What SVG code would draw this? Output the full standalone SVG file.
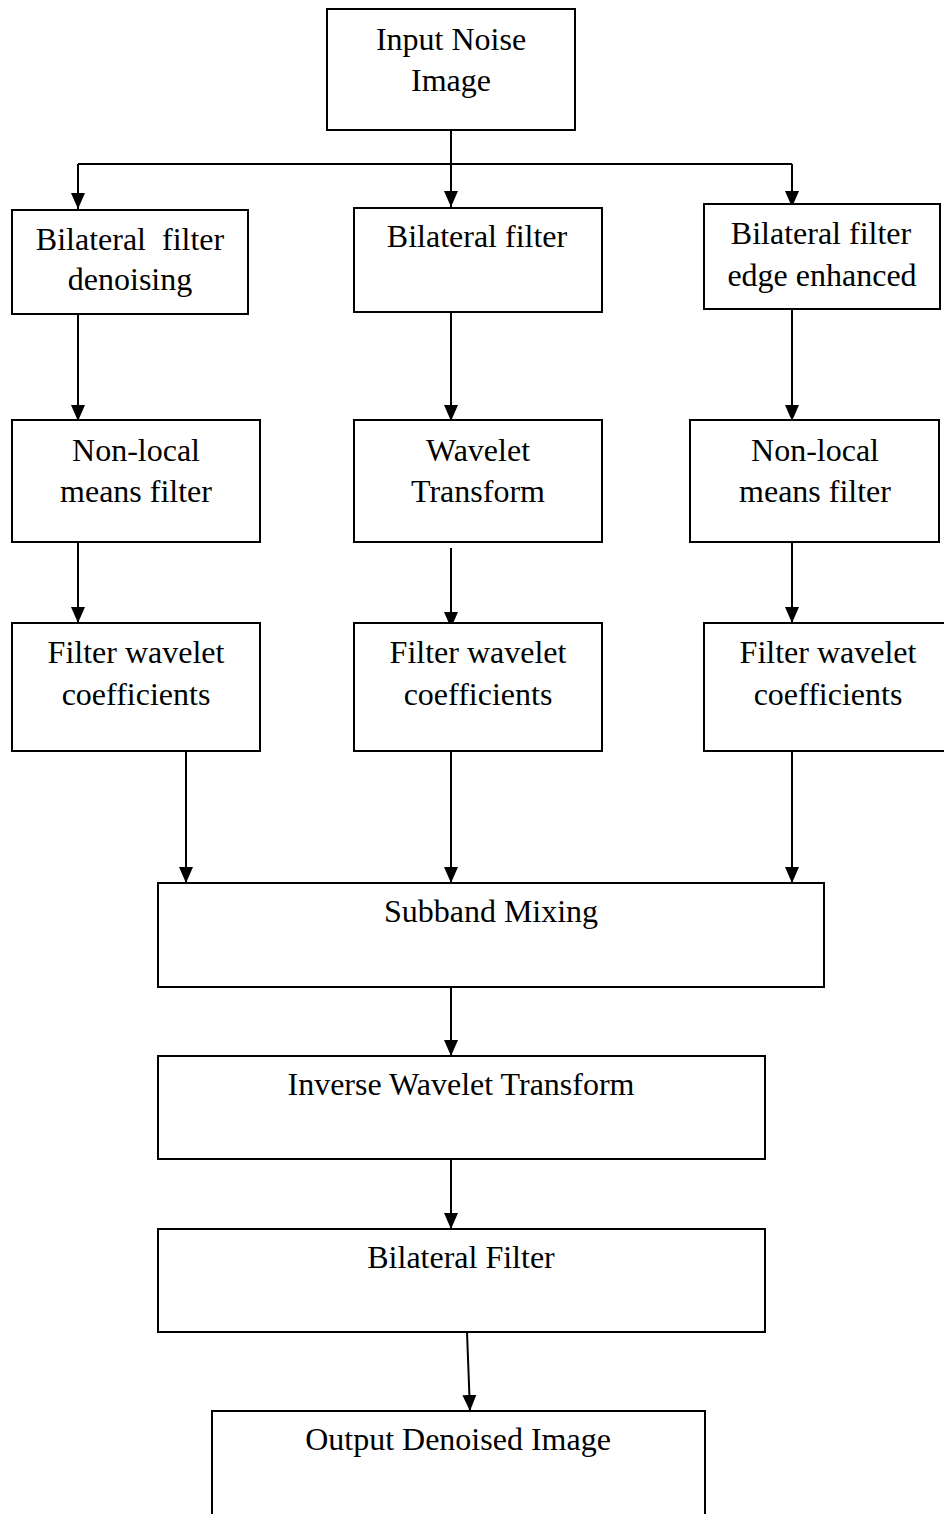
<svg xmlns="http://www.w3.org/2000/svg" width="944" height="1514" viewBox="0 0 944 1514">
  <style>
    .box { fill: #ffffff; stroke: #000000; stroke-width: 2; }
    .lbl { font-family: "Liberation Serif", "Times New Roman", serif; font-size: 32px; fill: #000000; text-anchor: middle; }
    .wire { fill: none; stroke: #000000; stroke-width: 2; }
  </style>
  <defs>
    <marker id="arrow" markerUnits="userSpaceOnUse" markerWidth="16" markerHeight="16" viewBox="0 0 16 14" refX="16" refY="7" orient="auto">
      <path d="M0,0 L16,7 L0,14 Z" fill="#000000"/>
    </marker>
  </defs>

  <rect width="944" height="1514" fill="#ffffff"/>

  <!-- connectors -->
  <g id="connectors">
    <line class="wire" x1="451" y1="130" x2="451" y2="164"/>
    <line class="wire" x1="78" y1="164" x2="792" y2="164"/>
    <line class="wire" x1="78" y1="164" x2="78" y2="209" marker-end="url(#arrow)"/>
    <line class="wire" x1="451" y1="164" x2="451" y2="207" marker-end="url(#arrow)"/>
    <line class="wire" x1="792" y1="164" x2="792" y2="207" marker-end="url(#arrow)"/>

    <line class="wire" x1="78" y1="314" x2="78" y2="421" marker-end="url(#arrow)"/>
    <line class="wire" x1="451" y1="312" x2="451" y2="421" marker-end="url(#arrow)"/>
    <line class="wire" x1="792" y1="309" x2="792" y2="421" marker-end="url(#arrow)"/>

    <line class="wire" x1="78" y1="542" x2="78" y2="623" marker-end="url(#arrow)"/>
    <line class="wire" x1="451" y1="548" x2="451" y2="628" marker-end="url(#arrow)"/>
    <line class="wire" x1="792" y1="542" x2="792" y2="623" marker-end="url(#arrow)"/>

    <line class="wire" x1="186" y1="751" x2="186" y2="883" marker-end="url(#arrow)"/>
    <line class="wire" x1="451" y1="751" x2="451" y2="883" marker-end="url(#arrow)"/>
    <line class="wire" x1="792" y1="751" x2="792" y2="883" marker-end="url(#arrow)"/>

    <line class="wire" x1="451" y1="987" x2="451" y2="1056" marker-end="url(#arrow)"/>
    <line class="wire" x1="451" y1="1159" x2="451" y2="1229" marker-end="url(#arrow)"/>
    <line class="wire" x1="467" y1="1332" x2="470" y2="1411" marker-end="url(#arrow)"/>
  </g>

  <g id="input">
    <rect class="box" x="327" y="9" width="248" height="121"/>
    <text class="lbl" x="451" y="50">Input Noise</text>
    <text class="lbl" x="451" y="91">Image</text>
  </g>

  <g id="bf-denoise">
    <rect class="box" x="12" y="210" width="236" height="104"/>
    <text class="lbl" x="130" y="250" xml:space="preserve">Bilateral  filter</text>
    <text class="lbl" x="130" y="290">denoising</text>
  </g>

  <g id="bf-plain">
    <rect class="box" x="354" y="208" width="248" height="104"/>
    <text class="lbl" x="477" y="247">Bilateral filter</text>
  </g>

  <g id="bf-edge">
    <rect class="box" x="704" y="204" width="236" height="105"/>
    <text class="lbl" x="821" y="244">Bilateral filter</text>
    <text class="lbl" x="822" y="286">edge enhanced</text>
  </g>

  <g id="nlm-left">
    <rect class="box" x="12" y="420" width="248" height="122"/>
    <text class="lbl" x="136" y="461">Non-local</text>
    <text class="lbl" x="136" y="502">means filter</text>
  </g>

  <g id="wavelet">
    <rect class="box" x="354" y="420" width="248" height="122"/>
    <text class="lbl" x="478" y="461">Wavelet</text>
    <text class="lbl" x="478" y="502">Transform</text>
  </g>

  <g id="nlm-right">
    <rect class="box" x="690" y="420" width="249" height="122"/>
    <text class="lbl" x="815" y="461">Non-local</text>
    <text class="lbl" x="815" y="502">means filter</text>
  </g>

  <g id="coef-left">
    <rect class="box" x="12" y="623" width="248" height="128"/>
    <text class="lbl" x="136" y="663">Filter wavelet</text>
    <text class="lbl" x="136" y="705">coefficients</text>
  </g>

  <g id="coef-mid">
    <rect class="box" x="354" y="623" width="248" height="128"/>
    <text class="lbl" x="478" y="663">Filter wavelet</text>
    <text class="lbl" x="478" y="705">coefficients</text>
  </g>

  <g id="coef-right">
    <rect class="box" x="704" y="623" width="250" height="128"/>
    <text class="lbl" x="828" y="663">Filter wavelet</text>
    <text class="lbl" x="828" y="705">coefficients</text>
  </g>

  <g id="subband">
    <rect class="box" x="158" y="883" width="666" height="104"/>
    <text class="lbl" x="491" y="922">Subband Mixing</text>
  </g>

  <g id="inverse">
    <rect class="box" x="158" y="1056" width="607" height="103"/>
    <text class="lbl" x="461" y="1095">Inverse Wavelet Transform</text>
  </g>

  <g id="bf-final">
    <rect class="box" x="158" y="1229" width="607" height="103"/>
    <text class="lbl" x="461" y="1268">Bilateral Filter</text>
  </g>

  <g id="output">
    <rect class="box" x="212" y="1411" width="493" height="120"/>
    <text class="lbl" x="458" y="1450">Output Denoised Image</text>
  </g>
</svg>
